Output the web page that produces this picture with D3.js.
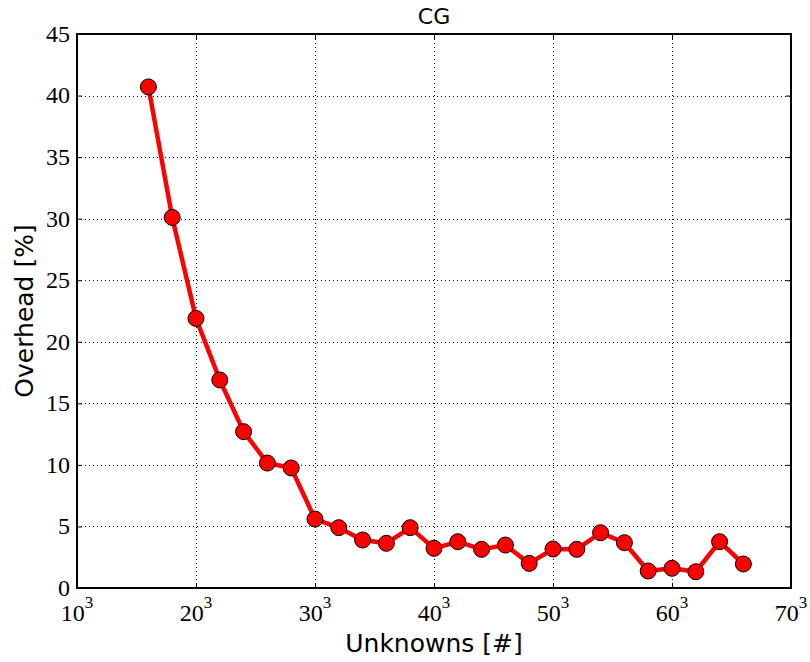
<!DOCTYPE html>
<html>
<head>
<meta charset="utf-8">
<script src="https://cdn.jsdelivr.net/npm/d3@7"></script>
<style>
  body { margin: 0; background: #fff; }
  svg { display: block; }
</style>
</head>
<body>
<div id="chart"></div>
<script>
// problem size n (unknowns = n^3) and measured overhead in %
const sizes = [16, 18, 20, 22, 24, 26, 28, 30, 32, 34, 36, 38, 40, 42, 44, 46, 48, 50, 52, 54, 56, 58, 60, 62, 64, 66]
const overhead = [40.7, 30.1, 21.9, 16.9, 12.7, 10.15, 9.75, 5.6, 4.9, 3.9, 3.63, 4.9, 3.22, 3.76, 3.14, 3.49, 2.0, 3.17, 3.14, 4.49, 3.68, 1.38, 1.6, 1.32, 3.76, 1.95]
const xTicks = [10, 20, 30, 40, 50, 60, 70]
const yTicks = [0, 5, 10, 15, 20, 25, 30, 35, 40, 45]

const width = 810
const height = 662
const margin = { top: 34, right: 19, bottom: 74, left: 77 }

const svg = d3.select('#chart')
  .append('svg')
  .attr('width', width)
  .attr('height', height)

const x = d3.scaleLinear().domain([10, 70]).range([margin.left, width - margin.right])
const y = d3.scaleLinear().domain([0, 45]).range([height - margin.bottom, margin.top])

const x0 = margin.left, x1 = width - margin.right
const y0 = height - margin.bottom, y1 = margin.top

// grid
const grid = svg.append('g')
  .attr('stroke', '#000')
  .attr('stroke-width', 1)
  .attr('stroke-dasharray', '1,3')
grid.selectAll('.gx')
  .data(xTicks.slice(1, -1))
  .enter()
  .append('line')
  .attr('x1', d => Math.round(x(d)) + 0.5)
  .attr('x2', d => Math.round(x(d)) + 0.5)
  .attr('y1', y0)
  .attr('y2', y1)
grid.selectAll('.gy')
  .data(yTicks.slice(1, -1))
  .enter()
  .append('line')
  .attr('y1', d => Math.round(y(d)) + 0.5)
  .attr('y2', d => Math.round(y(d)) + 0.5)
  .attr('x1', x0)
  .attr('x2', x1)

// axes with inward ticks on all four sides
const tickLen = 5
const axisB = d3.axisBottom(x).tickValues(xTicks).tickSize(-tickLen).tickFormat('')
const axisT = d3.axisTop(x).tickValues(xTicks).tickSize(-tickLen).tickFormat('')
const axisL = d3.axisLeft(y).tickValues(yTicks).tickSize(-tickLen).tickFormat('')
const axisR = d3.axisRight(y).tickValues(yTicks).tickSize(-tickLen).tickFormat('')

svg.append('g').attr('transform', `translate(0,${y0})`).call(axisB)
svg.append('g').attr('transform', `translate(0,${y1})`).call(axisT)
svg.append('g').attr('transform', `translate(${x0},0)`).call(axisL)
svg.append('g').attr('transform', `translate(${x1},0)`).call(axisR)
svg.selectAll('.domain').remove()
svg.selectAll('.tick line').attr('stroke', '#000').attr('stroke-width', 1)

// frame
svg.append('rect')
  .attr('x', x0)
  .attr('y', y1)
  .attr('width', x1 - x0)
  .attr('height', y0 - y1)
  .attr('fill', 'none')
  .attr('stroke', '#000')
  .attr('stroke-width', 2)

// tick labels
const serif = '"Liberation Serif", "DejaVu Serif", serif'
svg.append('g')
  .selectAll('text')
  .data(yTicks)
  .enter()
  .append('text')
  .attr('x', x0 - 7)
  .attr('y', d => y(d))
  .attr('dy', '0.33em')
  .attr('text-anchor', 'end')
  .style('font-family', serif)
  .style('font-size', '24px')
  .text(d => d)

const xl = svg.append('g')
  .selectAll('text')
  .data(xTicks)
  .enter()
  .append('text')
  .attr('x', d => x(d))
  .attr('y', y0 + 33)
  .attr('text-anchor', 'middle')
  .style('font-family', serif)
  .style('font-size', '24px')
xl.append('tspan').text(d => d)
xl.append('tspan')
  .attr('dy', -13)
  .style('font-size', '17px')
  .text('3')

// axis titles
const sans = '"DejaVu Sans", sans-serif'
svg.append('text')
  .attr('x', (x0 + x1) / 2)
  .attr('y', 652)
  .attr('text-anchor', 'middle')
  .style('font-family', sans)
  .style('font-size', '25px')
  .text('Unknowns [#]')

svg.append('text')
  .attr('transform', `translate(33,${(y0 + y1) / 2}) rotate(-90)`)
  .attr('text-anchor', 'middle')
  .style('font-family', sans)
  .style('font-size', '25px')
  .text('Overhead [%]')

svg.append('text')
  .attr('x', (x0 + x1) / 2)
  .attr('y', 24)
  .attr('text-anchor', 'middle')
  .style('font-family', sans)
  .style('font-size', '22px')
  .text('CG')

// series
const pts = sizes.map((s, i) => [s, overhead[i]])
const line = d3.line().x(d => x(d[0])).y(d => y(d[1]))

svg.append('path')
  .datum(pts)
  .attr('d', line)
  .attr('fill', 'none')
  .attr('stroke', '#ff0000')
  .attr('stroke-width', 4.5)
  .attr('stroke-linejoin', 'round')

svg.append('g')
  .selectAll('circle')
  .data(pts)
  .enter()
  .append('circle')
  .attr('cx', d => x(d[0]))
  .attr('cy', d => y(d[1]))
  .attr('r', 8)
  .attr('fill', '#ff0000')
  .attr('stroke', '#000')
  .attr('stroke-width', 1)
</script>
</body>
</html>
